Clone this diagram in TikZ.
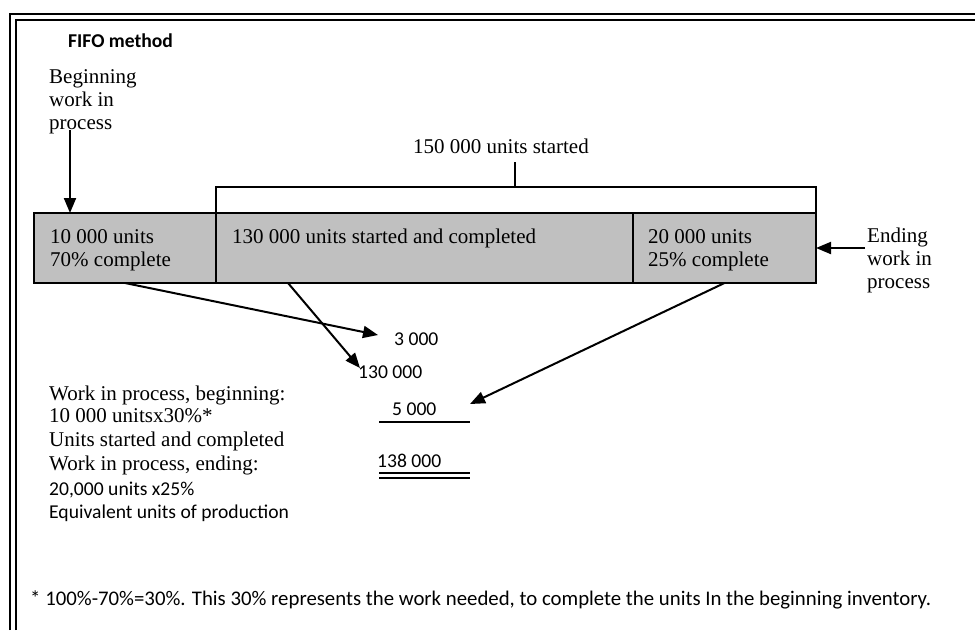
\documentclass[tikz,border=0pt]{standalone}
\usepackage{fontspec}
\setmainfont{Liberation Serif}
\newfontfamily\calfont{Carlito}
\usetikzlibrary{arrows.meta}
\definecolor{boxgray}{HTML}{C0C0C0}
\tikzset{
  ser/.style={inner sep=0pt, anchor=base west, font=\fontsize{21}{23.5}\selectfont},
  san/.style={inner sep=0pt, anchor=base west, font=\calfont\fontsize{19.6}{23}\selectfont},
  sanb/.style={inner sep=0pt, anchor=base west, font=\calfont\bfseries\fontsize{19.6}{23}\selectfont},
  foot/.style={inner sep=0pt, anchor=base west, font=\calfont\fontsize{20.8}{23}\selectfont},
  cell/.style={draw=black, line width=2pt, fill=boxgray, minimum height=70, anchor=north west, inner sep=0pt, outer sep=0pt},
  arr/.style={line width=2pt, -{Triangle[length=15pt,width=12pt]}},
  frame/.style={line width=2pt},
  rule/.style={line width=2pt}
}
\begin{document}
\begin{tikzpicture}[x=1pt,y=-1pt]
\useasboundingbox (0,0) rectangle (975,630);
% frame
\draw[frame] (9.5,630) -- (9.5,14) -- (975,14);
\draw[frame] (15.5,630) -- (15.5,20) -- (975,20);
% title
\node[sanb] (title) at (68,47) {FIFO method};
% beginning WIP label
\node[ser] (bw1) at (49,83) {Beginning};
\node[ser] (bw2) at (49,106) {work in};
\node[ser] (bw3) at (49,129) {process};
% boxes
\node[cell, minimum width=182] (b1) at (34,213) {};
\node[cell, minimum width=417] (b2) at (216,213) {};
\node[cell, minimum width=183] (b3) at (633,213) {};
\node[ser] (t1a) at (50,243) {10 000 units};
\node[ser] (t1b) at (50,266) {70\% complete};
\node[ser] (t2) at (232,243) {130 000 units started and completed};
\node[ser] (t3a) at (648,243) {20 000 units};
\node[ser] (t3b) at (648,266) {25\% complete};
% bracket
\node[ser] (started) at (413,153) {150 000 units started};
\draw[rule] (b2.north west) -- ++(0,-26) coordinate (brl) -| (b3.north east);
\coordinate (tickb) at (515,187);
\coordinate (tickt) at (515,162);
\draw[rule] (tickb) -- (tickt);
% ending WIP label
\node[ser] (ew1) at (867,242) {Ending};
\node[ser] (ew2) at (867,265) {work in};
\node[ser] (ew3) at (867,288) {process};
% arrows to boxes
\coordinate (bwp) at (70,130);
\draw[arr] (bwp) -- (bwp |- b1.north);
\coordinate (ewp) at (865,248);
\draw[arr] (ewp) -- (b3.east);
% numbers
\node[san] (n1) at (394,345) {3 000};
\node[san] (n2) at (358,378) {130 000};
\node[san] (n3) at (392,415) {5 000};
\node[san] (n4) at (377,467) {138 000};
\draw[rule] (379,422) coordinate (u1) -- (470,422) coordinate (u2);
\draw[rule] (379,473) coordinate (d1) -- (470,473) coordinate (d2);
\draw[rule] (379,478) coordinate (d3) -- (470,478) coordinate (d4);
% arrows from boxes
\coordinate (s2) at (288,283);
\coordinate (tip1) at (378,335);
\coordinate (tip2) at (360,368);
\coordinate (tip3) at (470,404);
\draw[arr] (b1.south) -- (tip1);
\draw[arr] (s2) -- (tip2);
\draw[arr] (b3.south) -- (tip3);
% left block
\node[ser] (l1) at (49,400) {Work in process, beginning:};
\node[ser] (l2) at (49,422) {10 000 unitsx30\%*};
\node[ser] (l3) at (49,446) {Units started and completed};
\node[ser] (l4) at (49,470) {Work in process, ending:};
\node[san] (l5) at (49,495) {20,000 units x25\%};
\node[san] (l6) at (49,518) {Equivalent units of production};
% footnote
\node[foot] (fn) at (30,605) {* 100\%-70\%=30\%. This 30\% represents the work needed, to complete the units In the beginning inventory.};
\end{tikzpicture}
\end{document}
